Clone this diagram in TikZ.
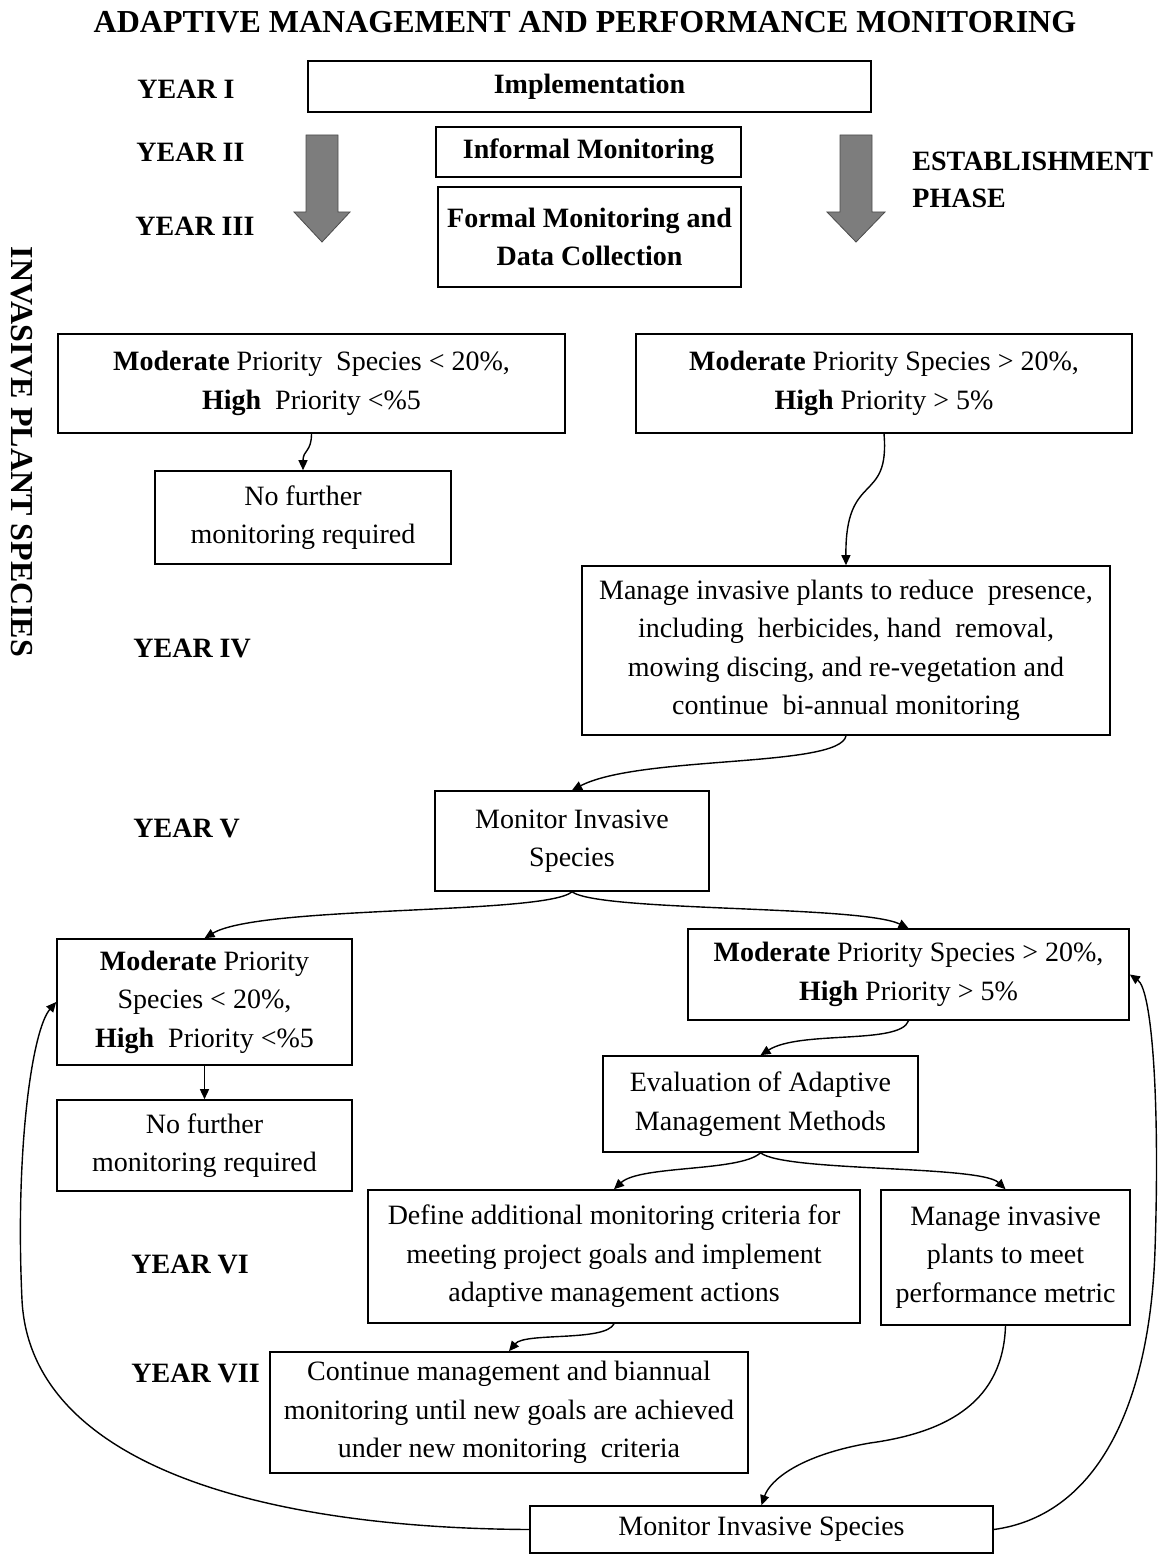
\documentclass[tikz,border=0pt]{standalone}
\usepackage{fontspec}
\setmainfont{Liberation Serif}
\usetikzlibrary{arrows.meta}
\newcommand\bodyfont{\fontsize{14}{19.2}\selectfont}
\definecolor{arrgray}{RGB}{125,125,125}
\begin{document}
\begin{tikzpicture}[x=0.5pt,y=-0.5pt,
  box/.style={draw, line width=0.8pt, align=center, inner sep=0pt, font=\bodyfont},
  wh/.style 2 args={minimum width=#1*0.5pt, minimum height=#2*0.5pt},
  yearlbl/.style={anchor=west, inner sep=0pt, font=\bfseries\bodyfont},
  conn/.style={line width=0.7pt, -{Triangle[length=5pt,width=4.5pt]}},
  blockarrow/.style={fill=arrgray, draw=black!70, line width=0.4pt}]
\useasboundingbox (0,0) rectangle (1163,1556);

% title and side label
\node[font=\bfseries\fontsize{16}{19}\selectfont, inner sep=0pt] (title) at (585,22) {ADAPTIVE MANAGEMENT AND PERFORMANCE MONITORING};
\node[font=\bfseries\fontsize{16}{19}\selectfont, inner sep=0pt, rotate=-90] (side) at (22,452) {INVASIVE PLANT SPECIES};

% year labels
\node[yearlbl] (y1) at (137,89) {YEAR I};
\node[yearlbl] (y2) at (136,152) {YEAR II};
\node[yearlbl] (y3) at (135,226) {YEAR III};
\node[yearlbl] (y4) at (133,648) {YEAR IV};
\node[yearlbl] (y5) at (133,828) {YEAR V};
\node[yearlbl] (y6) at (131,1264) {YEAR VI};
\node[yearlbl] (y7) at (131,1373) {YEAR VII};
\node[anchor=west, inner sep=0pt, align=left, font=\bfseries\fontsize{14}{18.5}\selectfont] (est) at (912,180) {ESTABLISHMENT\\PHASE};

% gray block arrows
\draw[blockarrow] (306,135) -- (338,135) -- (338,212) -- (350,212) -- (322,242) -- (294,212) -- (306,212) -- cycle;
\draw[blockarrow] (840,135) -- (872,135) -- (872,212) -- (885,212) -- (856,242) -- (827,212) -- (840,212) -- cycle;

% boxes
\node[box, wh={563}{51}, font=\bfseries\bodyfont] (impl) at (589.5,86.5) {Implementation};
\node[box, wh={305}{50}, font=\bfseries\bodyfont] (inf) at (588.5,152) {Informal Monitoring};
\node[box, wh={303}{100}, font=\bfseries\bodyfont] (formal) at (589.5,237) {Formal Monitoring and\\Data Collection};

\node[box, wh={507}{99}] (L1) at (311.5,383.5) {\textbf{Moderate} Priority~ Species < 20\%,\\\textbf{High}~ Priority <\%5};
\node[box, wh={496}{99}] (R1) at (884,383.5) {\textbf{Moderate} Priority Species > 20\%,\\\textbf{High} Priority > 5\%};
\node[box, wh={296}{93}] (nf1) at (303,517.5) {No further\\monitoring required};
\node[box, wh={528}{169}] (man1) at (846,650.5) {Manage invasive plants to reduce~ presence,\\including~ herbicides, hand~ removal,\\mowing discing, and re-vegetation and\\continue~ bi-annual monitoring};
\node[box, wh={274}{100}] (mon1) at (572,841) {Monitor Invasive\\Species};

\node[box, wh={295}{126}] (L2) at (204.5,1002) {\textbf{Moderate} Priority\\Species < 20\%,\\\textbf{High}~ Priority <\%5};
\node[box, wh={295}{91}] (nf2) at (204.5,1145.5) {No further\\monitoring required};
\node[box, wh={441}{91}] (R2) at (908.5,974.5) {\textbf{Moderate} Priority Species > 20\%,\\\textbf{High} Priority > 5\%};
\node[box, wh={315}{96}] (eval) at (760.5,1104) {Evaluation of Adaptive\\Management Methods};
\node[box, wh={492}{133}] (def) at (614,1256.5) {Define additional monitoring criteria for\\meeting project goals and implement\\adaptive management actions};
\node[box, wh={249}{135}] (man2) at (1005.5,1257.5) {Manage invasive\\plants to meet\\performance metric};
\node[box, wh={478}{121}] (cont) at (509,1412.5) {Continue management and biannual\\monitoring until new goals are achieved\\under new monitoring~ criteria};
\node[box, wh={463}{47}] (mon2) at (761.5,1529.5) {Monitor Invasive Species};

% connectors
\draw[conn] (L1.south) .. controls (311.5,452) and (303,450) .. (nf1.north);
\draw[conn] (R1.south) .. controls (890,505) and (845,470) .. (man1.north);
\draw[conn] (man1.south) .. controls (840,768) and (640,755) .. (mon1.north);
\draw[conn] (mon1.south) .. controls (545,915) and (260,905) .. (L2.north);
\draw[conn] (mon1.south) .. controls (600,912) and (860,905) .. (R2.north);
\draw[conn] (L2.south) -- (nf2.north);
\draw[conn] (R2.south) .. controls (900,1045) and (800,1030) .. (eval.north);
\draw[conn] (eval.south) .. controls (740,1172) and (640,1165) .. (def.north);
\draw[conn] (eval.south) .. controls (785,1172) and (980,1165) .. (man2.north);
\draw[conn] (def.south) .. controls (605,1342) and (525,1332) .. (cont.north);
\draw[conn] (man2.south) .. controls (1003,1400) and (950,1432) .. (870,1443)
  .. controls (800,1455) and (770,1480) .. (mon2.north);
\draw[conn] (mon2.west) .. controls (250,1528) and (30,1460) .. (22,1300)
  .. controls (15,1150) and (32,1030) .. (L2.west);
\draw[conn] (mon2.east) .. controls (1100,1515) and (1150,1400) .. (1155,1250)
  .. controls (1160,1100) and (1152,990) .. (R2.east);
\end{tikzpicture}
\end{document}
